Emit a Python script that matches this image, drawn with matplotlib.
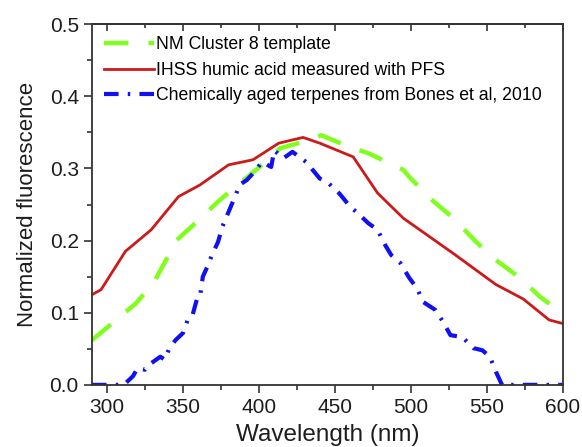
import matplotlib
matplotlib.use("Agg")
import matplotlib.pyplot as plt
from matplotlib.ticker import MultipleLocator, FormatStrFormatter

# NM Cluster 8 template (green dashed)
wl_nm = [290, 306, 319, 331, 346, 358, 373, 386, 402, 414, 429, 441, 457, 472, 486, 495, 499,
         514, 528, 543, 556, 572, 585, 600]
fl_nm = [0.062, 0.090, 0.113, 0.143, 0.201, 0.224, 0.254, 0.277, 0.305, 0.328, 0.337, 0.346,
         0.332, 0.321, 0.307, 0.298, 0.288, 0.256, 0.231, 0.198, 0.173, 0.148, 0.122, 0.099]

# IHSS humic acid (red solid)
wl_ihss = [290, 296, 312, 329, 347, 361, 380, 396, 413, 429, 440, 462, 478, 495, 528, 556, 574,
           591, 600]
fl_ihss = [0.125, 0.132, 0.185, 0.215, 0.261, 0.277, 0.305, 0.312, 0.335, 0.343, 0.335, 0.316,
           0.266, 0.231, 0.182, 0.139, 0.119, 0.090, 0.085]

# Chemically aged terpenes (blue dash-dot)
wl_terp = [290, 302, 311, 317, 320, 325, 329, 335, 338, 341, 345, 350, 353, 356, 359, 361, 363,
           366, 369, 373, 376, 381, 385, 387, 392, 396, 402, 408, 410, 416, 422, 431, 440, 446,
           453, 460, 465, 472, 478, 483, 487, 493, 499, 504, 508, 516, 521, 526, 534, 541, 547,
           552, 556, 560, 600]
fl_terp = [0.000, 0.000, 0.000, 0.012, 0.023, 0.021, 0.030, 0.039, 0.035, 0.051, 0.062, 0.072,
           0.090, 0.095, 0.118, 0.120, 0.150, 0.164, 0.180, 0.198, 0.220, 0.245, 0.265, 0.277,
           0.284, 0.293, 0.309, 0.302, 0.325, 0.314, 0.323, 0.309, 0.286, 0.279, 0.265, 0.247,
           0.238, 0.224, 0.215, 0.194, 0.180, 0.169, 0.148, 0.134, 0.115, 0.104, 0.088, 0.069,
           0.066, 0.051, 0.048, 0.039, 0.018, 0.000, 0.000]

plt.rcParams['font.family'] = ['Liberation Sans', 'DejaVu Sans']
txt = '#1e1e1e'

fig = plt.figure(figsize=(5.82, 4.47), dpi=100)
ax = fig.add_axes([0.158, 0.139, 0.809, 0.807])

ax.plot(wl_nm, fl_nm, color='#80ff1e', linewidth=3.2, dashes=(5.5, 4.5),
        label='NM Cluster 8 template')
ax.plot(wl_ihss, fl_ihss, color='#cc1a1a', linewidth=2.0,
        label='IHSS humic acid measured with PFS')
ax.plot(wl_terp, fl_terp, color='#1010f0', linewidth=3.0, dashes=(3.5, 2.2, 0.6, 2.2),
        label='Chemically aged terpenes from Bones et al, 2010')

ax.set_xlim(290, 600)
ax.set_ylim(0, 0.5)
ax.xaxis.set_major_locator(MultipleLocator(50))
ax.xaxis.set_minor_locator(MultipleLocator(25))
ax.yaxis.set_major_locator(MultipleLocator(0.1))
ax.yaxis.set_minor_locator(MultipleLocator(0.05))
ax.yaxis.set_major_formatter(FormatStrFormatter('%.1f'))

ax.tick_params(which='both', direction='out', top=False, right=False,
               width=1.2, color='#333333', labelsize=15, labelcolor=txt)
ax.tick_params(which='major', length=6)
ax.tick_params(which='minor', length=3.5)
for s in ax.spines.values():
    s.set_linewidth(1.3)
    s.set_color('#333333')

# top axis: inward ticks, no labels
top = ax.secondary_xaxis('top')
top.xaxis.set_major_locator(MultipleLocator(50))
top.xaxis.set_minor_locator(MultipleLocator(25))
top.tick_params(which='both', direction='in', labeltop=False, width=1.2, color='#333333')
top.tick_params(which='major', length=5)
top.tick_params(which='minor', length=3)
top.spines['top'].set_linewidth(1.3)
top.spines['top'].set_color('#333333')

ax.set_xlabel('Wavelength (nm)', fontsize=17.5, color=txt, labelpad=5)
ax.set_ylabel('Normalized fluorescence', fontsize=16, color=txt, labelpad=8)

ax.legend(loc='upper left', frameon=False, fontsize=12.7, handlelength=2.8,
          handletextpad=0.12, labelspacing=0.48, borderaxespad=0.2,
          borderpad=0.5)

fig.savefig('out.png', dpi=100)
